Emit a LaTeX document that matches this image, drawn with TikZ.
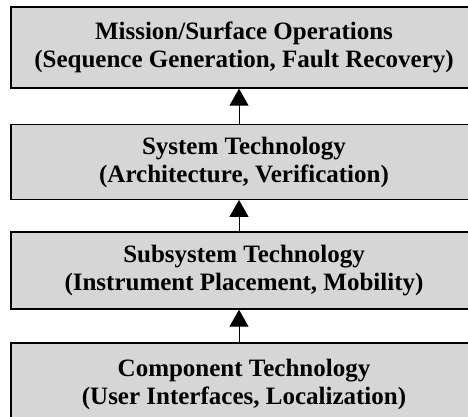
\documentclass[tikz,border=0pt]{standalone}
\usepackage{fontspec}
\setmainfont{Liberation Serif}
\usetikzlibrary{arrows.meta}
\begin{document}
\begin{tikzpicture}[x=1pt,y=-1pt,
  layer/.style={draw=black, line width=1.4pt, fill=black!16, inner sep=0pt,
    align=center, rectangle, minimum width=466pt,
    font=\fontsize{25}{28}\selectfont\bfseries},
  uparrow/.style={line width=1pt, -{Triangle[length=17pt,width=19pt]}}]
\clip (0,0) rectangle (468,417);
\node[layer, minimum height=81pt] (mso) at (244,47.5)
  {Mission/Surface Operations\\(Sequence Generation, Fault Recovery)};
\node[layer, minimum height=74.5pt] (sys) at (244,162)
  {System Technology\\(Architecture, Verification)};
\node[layer, minimum height=77pt] (sub) at (244,270.5)
  {\raisebox{-2pt}{\begin{tabular}{@{}c@{}}Subsystem Technology\\(Instrument Placement, Mobility)\end{tabular}}};
\node[layer, minimum height=82pt] (comp) at (244,384)
  {Component Technology\\(User Interfaces, Localization)};
\coordinate (ax) at (239,0);
\draw[uparrow] (sys.north -| ax) -- (mso.south -| ax);
\draw[uparrow] (sub.north -| ax) -- (sys.south -| ax);
\draw[uparrow] (comp.north -| ax) -- (sub.south -| ax);
\end{tikzpicture}
\end{document}
